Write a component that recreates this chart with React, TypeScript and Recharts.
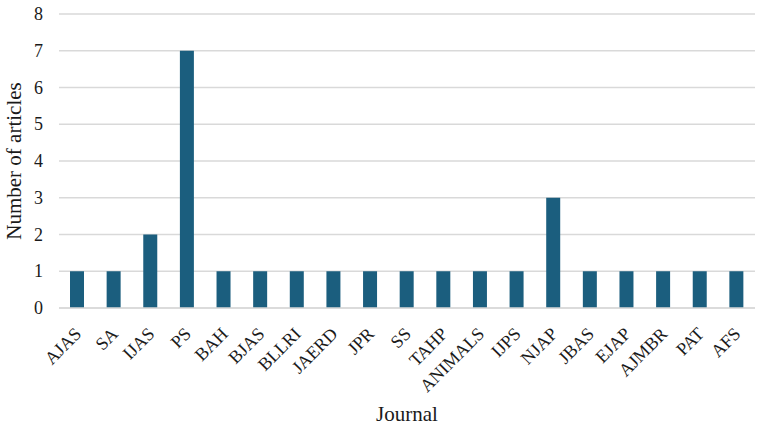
import { BarChart, Bar, CartesianGrid, XAxis, YAxis } from "recharts"

const journals = [
  "AJAS", "SA", "IJAS", "PS", "BAH", "BJAS", "BLLRI", "JAERD", "JPR", "SS",
  "TAHP", "ANIMALS", "IJPS", "NJAP", "JBAS", "EJAP", "AJMBR", "PAT", "AFS",
]
const articles = [1, 1, 2, 7, 1, 1, 1, 1, 1, 1, 1, 1, 1, 3, 1, 1, 1, 1, 1]
const yTicks = [0, 1, 2, 3, 4, 5, 6, 7, 8]

const data = journals.map((journal, i) => ({ journal, articles: articles[i] }))

const font = "'Liberation Serif', 'Times New Roman', serif"
const ink = "#1a1a1a"

function JournalTick(props: any) {
  const { x, y, payload } = props
  return (
    <g transform={`translate(${x + 5},${y + 27})`}>
      <text
        x={0}
        y={0}
        textAnchor="end"
        transform="rotate(-45)"
        fill={ink}
        fontSize={18}
        fontFamily={font}
      >
        {payload.value}
      </text>
    </g>
  )
}

function CountTick(props: any) {
  const { x, y, payload } = props
  return (
    <text x={x} y={y} dy={6} textAnchor="end" fill={ink} fontSize={18} fontFamily={font}>
      {payload.value}
    </text>
  )
}

export default function App() {
  return (
    <div style={{ position: "absolute", left: 0, top: 0, background: "#fff" }}>
      <BarChart
        width={762}
        height={429}
        data={data}
        margin={{ top: 14, right: 7, left: 0, bottom: 0 }}
      >
        <CartesianGrid vertical={false} stroke="#d9d9d9" strokeWidth={1.3} />
        <XAxis
          dataKey="journal"
          height={121}
          interval={0}
          axisLine={{ stroke: "#d9d9d9", strokeWidth: 1.3 }}
          tickLine={false}
          tickSize={0}
          tickMargin={0}
          tick={<JournalTick />}
          label={{
            value: "Journal",
            position: "insideBottom",
            offset: 8,
            style: { fontFamily: font, fontSize: 21, fill: ink },
          }}
        />
        <YAxis
          width={59}
          domain={[0, 8]}
          ticks={yTicks}
          axisLine={false}
          tickLine={false}
          tickSize={0}
          tickMargin={16}
          tick={<CountTick />}
          label={{
            value: "Number of articles",
            angle: -90,
            position: "insideLeft",
            offset: 14,
            style: { fontFamily: font, fontSize: 21, fill: ink, textAnchor: "middle" },
          }}
        />
        <Bar dataKey="articles" fill="#1b5e7e" barSize={14} isAnimationActive={false} />
      </BarChart>
    </div>
  )
}
